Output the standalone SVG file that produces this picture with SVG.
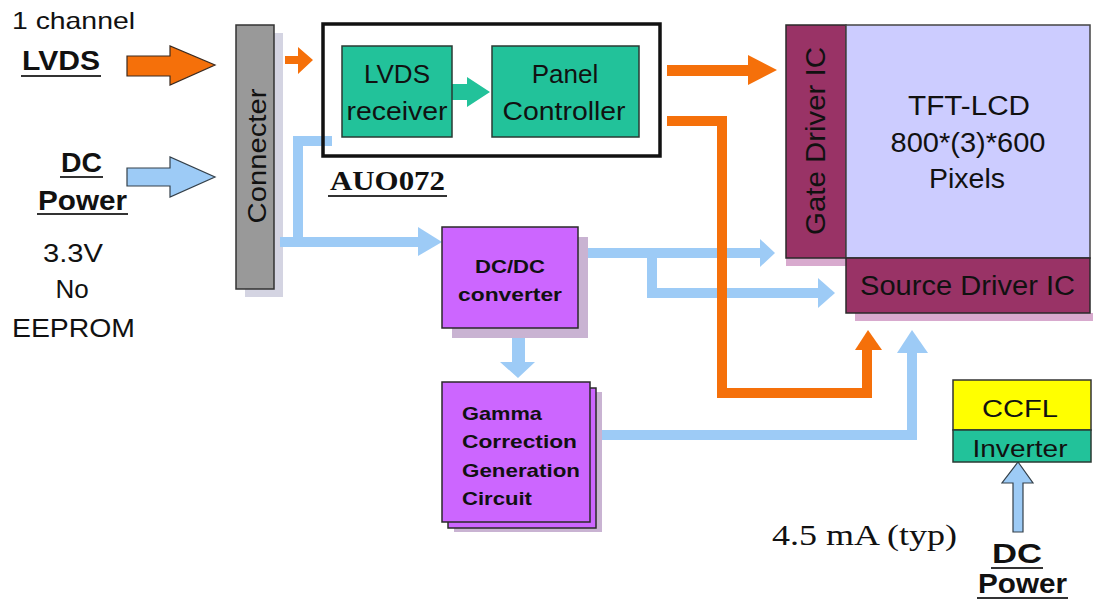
<svg xmlns="http://www.w3.org/2000/svg" width="1093" height="604" viewBox="0 0 1093 604">
<style>
.s{font-family:"Liberation Sans",Arial,sans-serif;fill:#111}
.b{font-weight:bold}
.t{font-family:"Liberation Serif","Times New Roman",serif;fill:#111}
.m{text-anchor:middle}
.teal{fill:#22C29A;stroke:#2a3a33;stroke-width:1.5}
.vio{fill:#CC66FF;stroke:#2a2a2a;stroke-width:1.5}
.mar{fill:#993366;stroke:#2a2a2a;stroke-width:1.5}
.sh{fill:#C9B3D2}
.ul{stroke:#333;stroke-width:2}
.bl{fill:none;stroke:#9DCBF6;stroke-width:10}
.blf{fill:#9DCBF6}
.or{fill:none;stroke:#F5700A;stroke-width:10}
.orf{fill:#F5700A}
</style>
<rect width="1093" height="604" fill="#fff"/>

<g id="labels-left">
<text class="s" x="12" y="29" font-size="24" textLength="123" lengthAdjust="spacingAndGlyphs">1 channel</text>
<text class="s b" x="22" y="70" font-size="28" textLength="78" lengthAdjust="spacingAndGlyphs">LVDS</text>
<line class="ul" x1="21" y1="76" x2="101" y2="76"/>
<text class="s b" x="61" y="172" font-size="28" textLength="41" lengthAdjust="spacingAndGlyphs">DC</text>
<line class="ul" x1="60" y1="177" x2="103" y2="177"/>
<text class="s b" x="38" y="210" font-size="28" textLength="89" lengthAdjust="spacingAndGlyphs">Power</text>
<line class="ul" x1="37" y1="214" x2="128" y2="214"/>
<text class="s m" x="73" y="262" font-size="26" textLength="60" lengthAdjust="spacingAndGlyphs">3.3V</text>
<text class="s m" x="72" y="298" font-size="26">No</text>
<text class="s" x="12" y="337" font-size="26" textLength="123" lengthAdjust="spacingAndGlyphs">EEPROM</text>
</g>

<g id="connector">
<rect x="245" y="33" width="38" height="264" fill="#D4D4E2"/>
<rect x="236" y="25" width="38" height="264" fill="#999999" stroke="#333" stroke-width="1.5"/>
<text class="s m" transform="translate(266,156) rotate(-90)" font-size="26" textLength="135" lengthAdjust="spacingAndGlyphs">Connecter</text>
</g>

<g id="connectors">
<polygon points="127,56 170,56 170,46 215,65 170,85 170,76 127,76" class="orf" stroke="#3a2a20" stroke-width="1.2"/>
<polygon points="127,168 170,168 170,157 215,177 170,197 170,186 127,186" class="blf" stroke="#34404a" stroke-width="1.2"/>
<polygon points="285,56 298,56 298,47 313,60 298,74 298,64 285,64" class="orf"/>
<polygon points="452,84 467,84 467,77 490,92 467,107 467,100 452,100" fill="#22C29A"/>
<polygon points="667,65 748,65 748,55 777,70 748,85 748,76 667,76" class="orf"/>
<path class="bl" d="M280 242 H420 M298 242 V141 H332"/>
<polygon class="blf" points="418,227 442,242 418,256"/>
<path class="bl" d="M588 253 H762 M652 253 V293 H820"/>
<polygon class="blf" points="760,239 775,253 760,267"/>
<polygon class="blf" points="818,278 835,293 818,308"/>
<polygon class="blf" points="512,338 525,338 525,362 535,362 518,378 500,362 512,362"/>
<path class="bl" d="M590 435 H912 V352"/>
<polygon class="blf" points="897,353 928,353 912,330"/>
<path class="or" d="M667 121 H722 V393 H867 V348"/>
<polygon class="orf" points="855,350 882,350 868,330"/>
<polygon points="1013,532 1013,483 1002,483 1018,462 1033,483 1023,483 1023,532" class="blf" stroke="#34404a" stroke-width="1.2"/>
</g>

<g id="auo072">
<rect x="323" y="24" width="337" height="132" fill="none" stroke="#111" stroke-width="3.5"/>
<text class="t b" x="330" y="190" font-size="27" textLength="115" lengthAdjust="spacingAndGlyphs">AUO072</text>
<line class="ul" x1="328" y1="196" x2="447" y2="196"/>
</g>

<g id="lvds-receiver">
<rect class="teal" x="342" y="46" width="110" height="91"/>
<text class="s m" x="397" y="83" font-size="26">LVDS</text>
<text class="s m" x="397" y="120" font-size="26" textLength="101" lengthAdjust="spacingAndGlyphs">receiver</text>
</g>

<g id="panel-controller">
<rect class="teal" x="492" y="46" width="147" height="91"/>
<text class="s m" x="565" y="83" font-size="26">Panel</text>
<text class="s m" x="564" y="120" font-size="26" textLength="123" lengthAdjust="spacingAndGlyphs">Controller</text>
</g>

<g id="dcdc">
<rect class="sh" x="452" y="237" width="136" height="101"/>
<rect class="vio" x="442" y="227" width="136" height="101"/>
<text class="s b m" x="510" y="273" font-size="19" textLength="70" lengthAdjust="spacingAndGlyphs">DC/DC</text>
<text class="s b m" x="510" y="301" font-size="19" textLength="104" lengthAdjust="spacingAndGlyphs">converter</text>
</g>

<g id="gamma">
<rect class="sh" x="454" y="392" width="148" height="140"/>
<rect class="vio" x="448" y="388" width="148" height="140"/>
<rect class="vio" x="442" y="382" width="148" height="140"/>
<text class="s b" x="462" y="420" font-size="19" textLength="80" lengthAdjust="spacingAndGlyphs">Gamma</text>
<text class="s b" x="462" y="448" font-size="19" textLength="115" lengthAdjust="spacingAndGlyphs">Correction</text>
<text class="s b" x="462" y="477" font-size="19" textLength="118" lengthAdjust="spacingAndGlyphs">Generation</text>
<text class="s b" x="462" y="505" font-size="19" textLength="70" lengthAdjust="spacingAndGlyphs">Circuit</text>
</g>

<g id="gate-driver">
<rect x="786" y="258" width="60" height="8" fill="#D8AACE"/>
<rect class="mar" x="786" y="25" width="60" height="233"/>
<text class="s m" transform="translate(825,141) rotate(-90)" font-size="28" fill="#1a1a1a" textLength="188" lengthAdjust="spacingAndGlyphs">Gate Driver IC</text>
</g>

<g id="tft-lcd">
<rect x="846" y="25" width="244" height="233" fill="#CCCCFF" stroke="#444" stroke-width="1.5"/>
<text class="s m" x="969" y="115" font-size="27" textLength="122" lengthAdjust="spacingAndGlyphs">TFT-LCD</text>
<text class="s m" x="968" y="152" font-size="27" textLength="155" lengthAdjust="spacingAndGlyphs">800*(3)*600</text>
<text class="s m" x="967" y="188" font-size="27" textLength="76" lengthAdjust="spacingAndGlyphs">Pixels</text>
</g>

<g id="source-driver">
<rect x="855" y="313" width="238" height="8" fill="#D8AACE"/>
<rect class="mar" x="846" y="258" width="244" height="55"/>
<text class="s" x="860" y="295" font-size="27" fill="#1a1a1a" textLength="215" lengthAdjust="spacingAndGlyphs">Source Driver IC</text>
</g>

<g id="ccfl">
<rect x="953" y="380" width="138" height="50" fill="#FFFF00" stroke="#333" stroke-width="1.5"/>
<text class="s m" x="1020" y="417" font-size="24" textLength="76" lengthAdjust="spacingAndGlyphs">CCFL</text>
</g>

<g id="inverter">
<rect class="teal" x="953" y="430" width="138" height="32"/>
<text class="s m" x="1020" y="457" font-size="24" textLength="95" lengthAdjust="spacingAndGlyphs">Inverter</text>
</g>

<g id="labels-bottom">
<text class="t" x="772" y="545" font-size="30" textLength="185" lengthAdjust="spacingAndGlyphs">4.5 mA (typ)</text>
<text class="s b m" x="1017" y="563" font-size="28" textLength="50" lengthAdjust="spacingAndGlyphs">DC</text>
<line class="ul" x1="991" y1="568" x2="1043" y2="568"/>
<text class="s b" x="978" y="593" font-size="28" textLength="89" lengthAdjust="spacingAndGlyphs">Power</text>
<line class="ul" x1="977" y1="598" x2="1068" y2="598"/>
</g>
</svg>
